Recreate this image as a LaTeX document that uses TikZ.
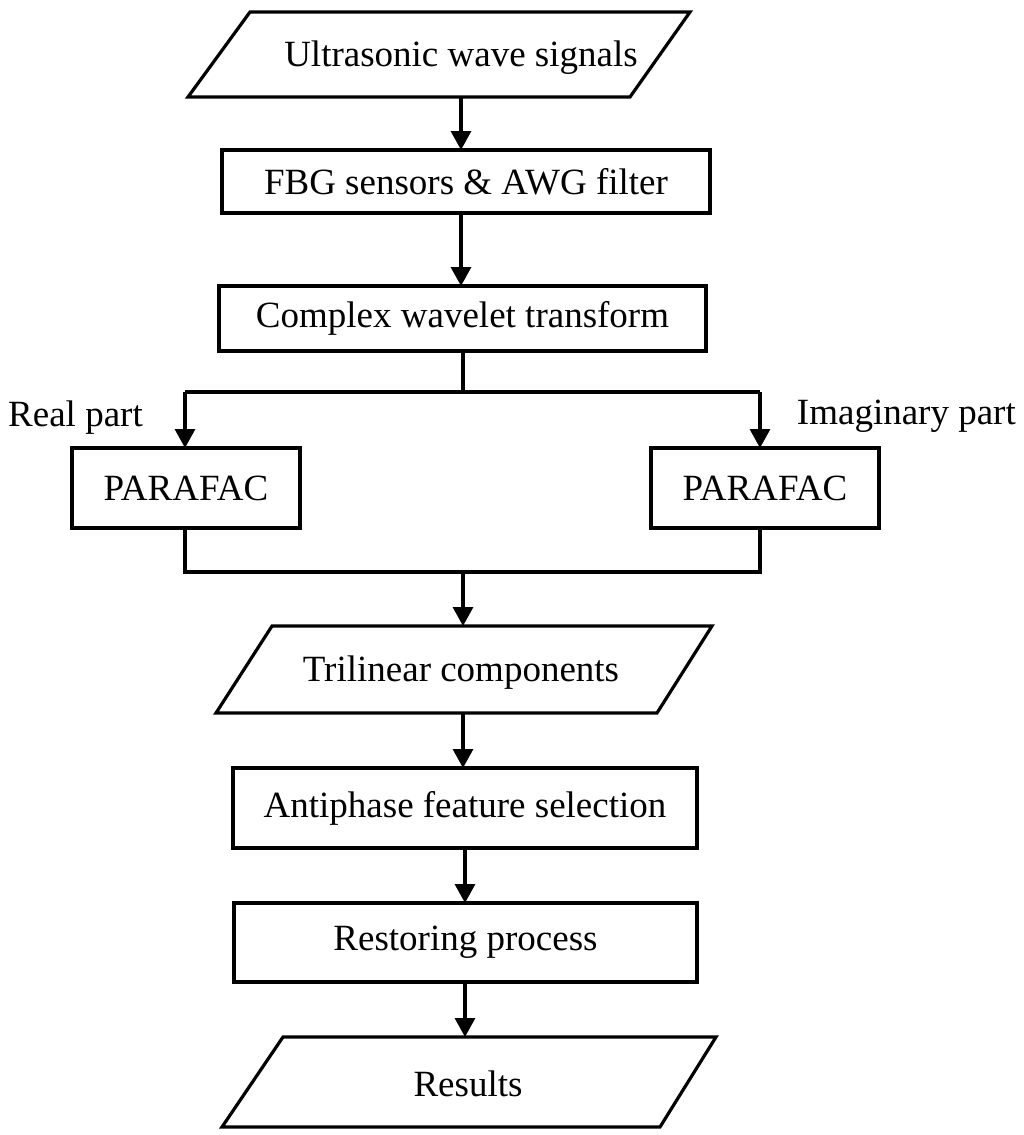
\documentclass[tikz,border=0pt]{standalone}
\usepackage{fontspec}
\setmainfont{Liberation Serif}
\usetikzlibrary{arrows.meta}
\begin{document}
\begin{tikzpicture}[x=1pt,y=-1pt,
  box/.style={draw,line width=3.2pt,inner sep=0pt},
  lbl/.style={font=\fontsize{37}{42}\selectfont,inner sep=0pt},
  ln/.style={line width=3.2pt},
  arr/.style={ln,-{Triangle[length=19pt,width=20pt]}}]
\useasboundingbox (0,0) rectangle (1024,1135);
% parallelogram 1
\draw[ln,line join=miter] (250,12) -- (690,12) -- (630,97) -- (188,97) -- cycle;
\node[lbl] (p1) at (461,58) {Ultrasonic wave signals};
\coordinate (p1b) at (461,97);
\node[box,minimum width=488pt,minimum height=63pt] (fbg) at (466,181.5) {};
\node[lbl] at (fbg) {FBG sensors \& AWG filter};
\node[box,minimum width=487pt,minimum height=65pt] (cwt) at (462.5,318.5) {};
\node[lbl] at (cwt) {Complex wavelet transform};
\node[box,minimum width=228pt,minimum height=80pt] (pl) at (186,488) {};
\node[lbl] at (pl) {PARAFAC};
\node[box,minimum width=228pt,minimum height=80pt] (pr) at (765,488) {};
\node[lbl] at (pr) {PARAFAC};
\node[lbl,anchor=west] (rp) at (8,418) {Real part};
\node[lbl,anchor=east] (ip) at (1016,416) {Imaginary part};
% parallelogram 2
\draw[ln,line join=miter] (272,626) -- (712,626) -- (657,713) -- (216,713) -- cycle;
\node[lbl] (p2) at (461,673) {Trilinear components};
\coordinate (p2t) at (463,626);
\coordinate (p2b) at (463,713);
\node[box,minimum width=464pt,minimum height=80pt] (ant) at (465,808) {};
\node[lbl] at (ant) {Antiphase feature selection};
\node[box,minimum width=463pt,minimum height=79pt] (rest) at (465.5,942.5) {};
\node[lbl] at (rest) {Restoring process};
% parallelogram 3
\draw[ln,line join=miter] (283,1037) -- (716,1037) -- (660,1127) -- (222,1127) -- cycle;
\node[lbl] (p3) at (468,1084) {Results};
\coordinate (p3t) at (465,1037);
% connectors
\draw[arr] (p1b) -- (461,150);
\draw[arr] (461,213) -- (461,286);
\coordinate (s1) at (463,392);
\coordinate (sl) at (185,392);
\coordinate (sr) at (760,392);
\draw[ln] (cwt.south -| s1) -- (s1);
\draw[ln] (sl) -- (sr);
\draw[arr] (sl) -- (185,448);
\draw[arr] (sr) -- (760,448);
\coordinate (jl) at (185,572);
\coordinate (jr) at (760,572);
\coordinate (jm) at (463,572);
\draw[ln] (185,528) -- (jl) -- (jr) -- (760,528);
\draw[arr] (jm) -- (p2t);
\draw[arr] (p2b) -- (463,768);
\draw[arr] (465,848) -- (465,903);
\draw[arr] (465,982) -- (p3t);
\end{tikzpicture}
\end{document}
